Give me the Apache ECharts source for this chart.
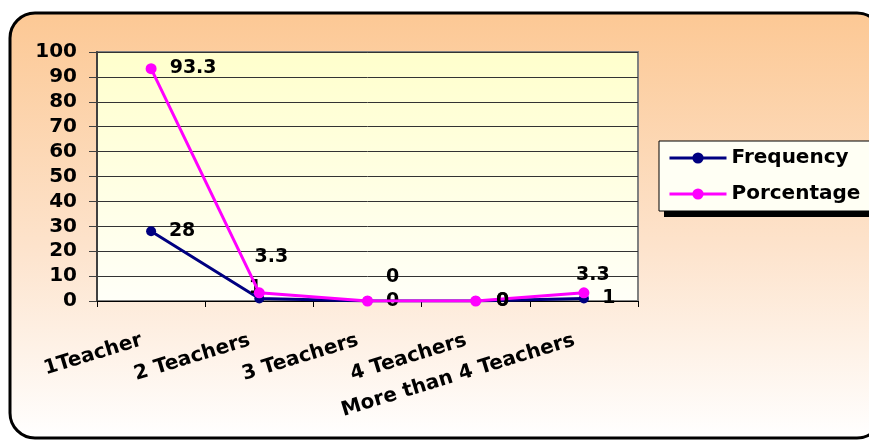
<!DOCTYPE html>
<html>
<head>
<meta charset="utf-8">
<script src="https://cdn.jsdelivr.net/npm/echarts@6/dist/echarts.min.js"></script>
<style>
  html, body { margin: 0; padding: 0; background: #fff; }
  #main { width: 869px; height: 441px; }
</style>
</head>
<body>
<div id="main"></div>
<script>
// data
var categories = ['1Teacher', '2 Teachers', '3 Teachers', '4 Teachers', 'More than 4 Teachers'];
var frequency = [28, 1, 0, 0, 1];
var percentage = [93.3, 3.3, 0, 0, 3.3];
var yTicks = { min: 0, max: 100, step: 10 };

// label placement (moved by hand in the original chart)
var freqLabelOffsets = [[31, 0], [-4, -10], [25, 0], [27, 0], [25, 0]];
var pctLabelOffsets = [[42, -1], [12, -36], [25, -24], [27, 0], [9, -18]];

var FONT = 'DejaVu Sans';

function buildData(values, offsets) {
    return values.map(function (v, i) {
        return { value: v, label: { offset: offsets[i] } };
    });
}

var myChart = echarts.init(document.getElementById('main'));

var option = {
    backgroundColor: '#ffffff',
    animation: false,
    graphic: {
        elements: [
            {
                // outer rounded frame
                type: 'rect',
                z: -100,
                shape: { x: 10, y: 13, width: 872, height: 425, r: 25 },
                style: {
                    fill: new echarts.graphic.LinearGradient(0, 0, 0, 1, [
                        { offset: 0, color: '#fcc894' },
                        { offset: 0.55, color: '#fde3cc' },
                        { offset: 1, color: '#ffffff' }
                    ]),
                    stroke: '#000000',
                    lineWidth: 3
                }
            },
            {
                // legend drop shadow
                type: 'rect',
                z: -50,
                shape: { x: 664, y: 146, width: 209, height: 71 },
                style: { fill: '#000000' }
            }
        ]
    },
    grid: {
        show: true,
        left: 97,
        right: 231,
        top: 52,
        bottom: 140,
        borderColor: '#808080',
        borderWidth: 2,
        backgroundColor: new echarts.graphic.LinearGradient(0, 0, 0, 1, [
            { offset: 0, color: '#ffffcc' },
            { offset: 1, color: '#fffff8' }
        ])
    },
    legend: {
        orient: 'vertical',
        left: 659,
        top: 141,
        padding: [6, 12, 6, 9],
        itemGap: 14,
        itemWidth: 57,
        itemHeight: 14,
        backgroundColor: '#fffff4',
        borderColor: '#000000',
        borderWidth: 1,
        lineStyle: { width: 3 },
        textStyle: {
            fontFamily: FONT,
            fontWeight: 'bold',
            fontSize: 20,
            lineHeight: 22,
            color: '#000000'
        },
        data: ['Frequency', 'Porcentage']
    },
    xAxis: {
        type: 'category',
        data: categories,
        boundaryGap: true,
        axisLine: { lineStyle: { color: '#000000', width: 1 } },
        axisTick: { show: true, length: 6, lineStyle: { color: '#000000' } },
        axisLabel: {
            rotate: 17,
            margin: 36,
            padding: [0, 10, 0, 0],
            fontFamily: FONT,
            fontWeight: 'bold',
            fontSize: 20,
            color: '#000000'
        }
    },
    yAxis: {
        type: 'value',
        min: yTicks.min,
        max: yTicks.max,
        interval: yTicks.step,
        axisLine: { show: true, lineStyle: { color: '#404040', width: 2 } },
        axisTick: { show: true, length: 8, lineStyle: { color: '#404040' } },
        splitLine: { lineStyle: { color: '#333333', width: 1 } },
        axisLabel: {
            margin: 20,
            fontFamily: FONT,
            fontWeight: 'bold',
            fontSize: 20,
            color: '#000000'
        }
    },
    series: [
        {
            name: 'Frequency',
            type: 'line',
            data: buildData(frequency, freqLabelOffsets),
            symbol: 'circle',
            symbolSize: 10,
            z: 2,
            lineStyle: { color: '#000080', width: 3 },
            itemStyle: { color: '#000080' },
            label: {
                show: true,
                position: 'inside',
                fontFamily: FONT,
                fontWeight: 'bold',
                fontSize: 19,
                color: '#000000'
            }
        },
        {
            name: 'Porcentage',
            type: 'line',
            data: buildData(percentage, pctLabelOffsets),
            symbol: 'circle',
            symbolSize: 11,
            z: 3,
            lineStyle: { color: '#ff00ff', width: 3 },
            itemStyle: { color: '#ff00ff' },
            label: {
                show: true,
                position: 'inside',
                fontFamily: FONT,
                fontWeight: 'bold',
                fontSize: 19,
                color: '#000000'
            }
        }
    ]
};

myChart.setOption(option);
</script>
</body>
</html>
